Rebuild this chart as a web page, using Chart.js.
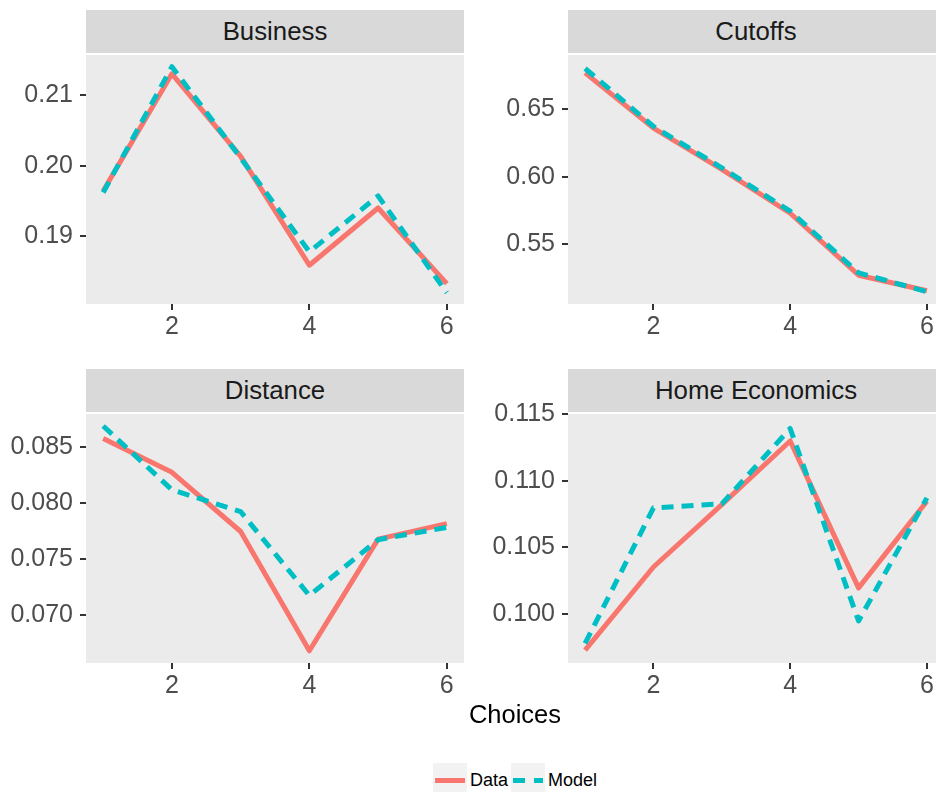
<!DOCTYPE html>
<html>
<head>
<meta charset="utf-8">
<script src="https://cdn.jsdelivr.net/npm/chart.js@4/dist/chart.umd.min.js"></script>
<style>
  html, body { margin: 0; padding: 0; background: #ffffff; }
  #page { position: relative; width: 936px; height: 792px; overflow: hidden;
          font-family: "Liberation Sans", Arial, sans-serif; }
  .strip { position: absolute; height: 43px; background: #D9D9D9; color: #1A1A1A;
           font-size: 25.8px; text-align: center; line-height: 43px; white-space: nowrap; }
  canvas { position: absolute; }
  #xtitle { position: absolute; left: 86px; width: 858px; top: 699px; height: 30px;
            line-height: 30px; text-align: center; font-size: 25.5px; color: #000; }
  .key { position: absolute; top: 763px; width: 34px; height: 34px; background: #F2F2F2; }
  .key .seg { position: absolute; top: 14.5px; height: 5px; }
  .ltext { position: absolute; top: 763px; height: 34px; line-height: 34px;
           font-size: 18px; color: #000; }
</style>
</head>
<body>
<div id="page">
  <div class="strip" style="left:86px;top:10px;width:378px;">Business</div>
  <div class="strip" style="left:568px;top:10px;width:376px;">Cutoffs</div>
  <div class="strip" style="left:86px;top:369px;width:378px;">Distance</div>
  <div class="strip" style="left:568px;top:369px;width:376px;">Home Economics</div>

  <canvas id="business" width="470" height="316" style="left:0px;top:33px;width:470px;height:316px;"></canvas>
  <canvas id="cutoffs" width="480" height="316" style="left:470px;top:33px;width:480px;height:316px;"></canvas>
  <canvas id="distance" width="470" height="316" style="left:0px;top:392px;width:470px;height:316px;"></canvas>
  <canvas id="homeEcon" width="480" height="316" style="left:470px;top:392px;width:480px;height:316px;"></canvas>

  <div id="xtitle">Choices</div>

  <div class="key" style="left:433px;">
    <div class="seg" style="left:2px;width:30px;background:#F8766D;"></div>
  </div>
  <div class="ltext" style="left:470px;">Data</div>
  <div class="key" style="left:511px;">
    <div class="seg" style="left:2px;width:12px;background:#00BFC4;"></div>
    <div class="seg" style="left:23px;width:9px;background:#00BFC4;"></div>
  </div>
  <div class="ltext" style="left:548px;">Model</div>
</div>

<script>
// Choice number on the x axis and the tick marks shown on it
const choices = [1, 2, 3, 4, 5, 6];
const xTicks = [2, 4, 6];

// Business
const businessData  = [0.1964, 0.2130, 0.2013, 0.1859, 0.1940, 0.1833];
const businessModel = [0.1962, 0.2140, 0.2011, 0.1878, 0.1957, 0.1820];
const businessTicks = ['0.19', '0.20', '0.21'];

// Cutoffs
const cutoffsData  = [0.6769, 0.6361, 0.6056, 0.5731, 0.5273, 0.5158];
const cutoffsModel = [0.6801, 0.6373, 0.6067, 0.5746, 0.5290, 0.5151];
const cutoffsTicks = ['0.55', '0.60', '0.65'];

// Distance
const distanceData  = [0.08574, 0.08272, 0.07743, 0.06677, 0.07675, 0.07813];
const distanceModel = [0.08686, 0.08116, 0.07920, 0.07171, 0.07670, 0.07780];
const distanceTicks = ['0.070', '0.075', '0.080', '0.085'];

// Home Economics
const homeEconData  = [0.09726, 0.10351, 0.10821, 0.11299, 0.10194, 0.10846];
const homeEconModel = [0.09776, 0.10796, 0.10826, 0.11393, 0.09945, 0.10871];
const homeEconTicks = ['0.100', '0.105', '0.110', '0.115'];

const FONT = '"Liberation Sans", Arial, sans-serif';
const RED = '#F8766D';
const CYAN = '#00BFC4';

// Light grey panel behind the plotting area
const panelBackground = {
  id: 'panelBackground',
  beforeDraw(chart) {
    const { ctx, chartArea: a } = chart;
    ctx.save();
    ctx.fillStyle = '#EBEBEB';
    ctx.fillRect(a.left, a.top, a.right - a.left, a.bottom - a.top);
    ctx.restore();
  }
};

function toPoints(values) {
  return choices.map((c, i) => ({ x: c, y: values[i] }));
}

function makePanel(id, dataVals, modelVals, yTicks, yMin, yMax, yAxisWidth, padRight) {
  const ctx = document.getElementById(id).getContext('2d');
  return new Chart(ctx, {
    type: 'line',
    data: {
      datasets: [
        {
          label: 'Model', data: toPoints(modelVals), order: 0,
          borderColor: CYAN, borderWidth: 5, borderDash: [12, 8],
          borderCapStyle: 'butt', borderJoinStyle: 'round',
          pointRadius: 0, tension: 0, fill: false
        },
        {
          label: 'Data', data: toPoints(dataVals), order: 1,
          borderColor: RED, borderWidth: 5,
          borderCapStyle: 'butt', borderJoinStyle: 'round',
          pointRadius: 0, tension: 0, fill: false
        }
      ]
    },
    options: {
      responsive: false,
      animation: false,
      devicePixelRatio: 1,
      layout: { padding: { top: 20, right: padRight, left: 0, bottom: 0 } },
      plugins: { legend: { display: false }, tooltip: { enabled: false } },
      scales: {
        x: {
          type: 'linear', min: 0.75, max: 6.25,
          afterBuildTicks: s => { s.ticks = xTicks.map(v => ({ value: v })); },
          afterFit: s => { s.height = 45; },
          ticks: {
            color: '#4D4D4D', font: { size: 25, family: FONT }, padding: 2,
            maxRotation: 0, autoSkip: false,
            callback: (v) => String(v)
          },
          grid: { drawOnChartArea: false, drawTicks: true, tickLength: 6,
                  color: '#333333', lineWidth: 2 },
          border: { display: false }
        },
        y: {
          type: 'linear', min: yMin, max: yMax,
          afterBuildTicks: s => { s.ticks = yTicks.map(t => ({ value: Number(t) })); },
          afterFit: s => { s.width = yAxisWidth; },
          ticks: {
            color: '#4D4D4D', font: { size: 25, family: FONT }, padding: 7,
            autoSkip: false,
            callback: (v, i) => yTicks[i]
          },
          grid: { drawOnChartArea: false, drawTicks: true, tickLength: 6,
                  color: '#333333', lineWidth: 2 },
          border: { display: false }
        }
      }
    },
    plugins: [panelBackground]
  });
}

makePanel('business', businessData, businessModel, businessTicks, 0.18041, 0.21566, 86, 6);
makePanel('cutoffs', cutoffsData, cutoffsModel, cutoffsTicks, 0.5060, 0.6901, 98, 6);
makePanel('distance', distanceData, distanceModel, distanceTicks, 0.06568, 0.08793, 86, 6);
makePanel('homeEcon', homeEconData, homeEconModel, homeEconTicks, 0.09629, 0.11502, 98, 6);
</script>
</body>
</html>
